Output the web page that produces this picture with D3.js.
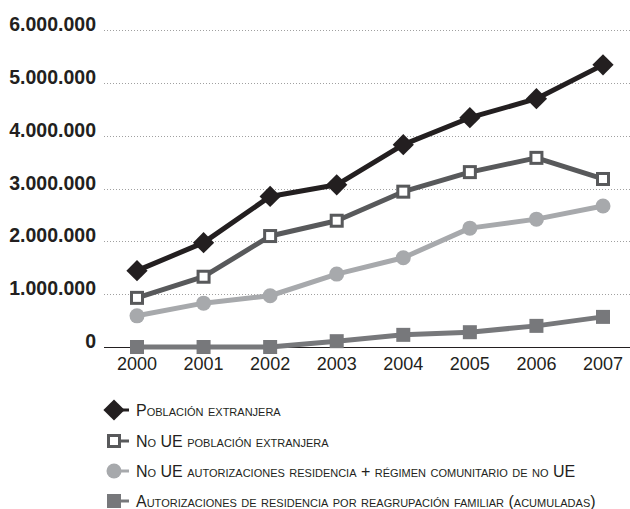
<!DOCTYPE html>
<html>
<head>
<meta charset="utf-8">
<script src="https://cdn.jsdelivr.net/npm/d3@7"></script>
<style>
  body { margin: 0; background: #fff; }
  svg { font-family: 'Liberation Sans', Arial, sans-serif; }
  .legend-text { font-variant: small-caps; font-size: 16px; fill: #231f20; }
</style>
</head>
<body>
<svg id="chart" width="630" height="509"></svg>
<script>
// Data
const years = ['2000', '2001', '2002', '2003', '2004', '2005', '2006', '2007'];
const poblacion = [1445000, 1975000, 2850000, 3070000, 3830000, 4340000, 4700000, 5340000];
const noUePoblacion = [930000, 1330000, 2100000, 2390000, 2940000, 3310000, 3580000, 3180000];
const noUeAutorizaciones = [590000, 830000, 970000, 1380000, 1690000, 2250000, 2420000, 2670000];
const reagrupacion = [0, 0, 0, 110000, 230000, 280000, 400000, 570000];
const yTicks = [0, 1000000, 2000000, 3000000, 4000000, 5000000, 6000000];
const legendLabels = [
  'Población extranjera',
  'No UE población extranjera',
  'No UE autorizaciones residencia + régimen comunitario de no UE',
  'Autorizaciones de residencia por reagrupación familiar (acumuladas)'
];

const series = [
  { values: reagrupacion, color: '#77787b', marker: 'square' },
  { values: noUeAutorizaciones, color: '#a7a9ac', marker: 'circle' },
  { values: noUePoblacion, color: '#58595b', marker: 'open' },
  { values: poblacion, color: '#231f20', marker: 'diamond' }
];

const svg = d3.select('#chart');

const xScale = d3.scalePoint().domain(years).range([137, 603]);
const yScale = d3.scaleLinear().domain([0, 6000000]).range([347, 30]);

// gridlines
svg.append('g')
  .selectAll('line')
  .data(yTicks.filter(d => d > 0))
  .join('line')
  .attr('x1', 104)
  .attr('x2', 630)
  .attr('y1', d => Math.round(yScale(d)) + 0.5)
  .attr('y2', d => Math.round(yScale(d)) + 0.5)
  .attr('stroke', '#a0a0a0')
  .attr('stroke-width', 1)
  .attr('stroke-dasharray', '1,2');

// zero axis
svg.append('line')
  .attr('x1', 104)
  .attr('x2', 630)
  .attr('y1', Math.round(yScale(0)) + 0.5)
  .attr('y2', Math.round(yScale(0)) + 0.5)
  .attr('stroke', '#231f20')
  .attr('stroke-width', 1);

// y labels
const fmt = d => d3.format(',')(d).replace(/,/g, '.');
svg.append('g')
  .selectAll('text')
  .data(yTicks)
  .join('text')
  .attr('x', 96)
  .attr('y', d => yScale(d) + 1)
  .attr('text-anchor', 'end')
  .attr('font-size', 19.5)
  .attr('font-weight', 'bold')
  .attr('fill', '#231f20')
  .text(fmt);

// x labels
svg.append('g')
  .selectAll('text')
  .data(years)
  .join('text')
  .attr('x', d => xScale(d))
  .attr('y', 370)
  .attr('text-anchor', 'middle')
  .attr('font-size', 18)
  .attr('fill', '#231f20')
  .text(d => d);

function drawMarker(g, type, color, x, y) {
  if (type === 'diamond') {
    g.append('rect')
      .attr('x', x - 7.5)
      .attr('y', y - 7.5)
      .attr('width', 15)
      .attr('height', 15)
      .attr('fill', color)
      .attr('transform', `rotate(45,${x},${y})`);
  } else if (type === 'open') {
    g.append('rect')
      .attr('x', x - 5.5)
      .attr('y', y - 5.5)
      .attr('width', 11)
      .attr('height', 11)
      .attr('fill', '#fff')
      .attr('stroke', color)
      .attr('stroke-width', 3);
  } else if (type === 'circle') {
    g.append('circle')
      .attr('cx', x)
      .attr('cy', y)
      .attr('r', 7.5)
      .attr('fill', color);
  } else {
    g.append('rect')
      .attr('x', x - 7)
      .attr('y', y - 7)
      .attr('width', 14)
      .attr('height', 14)
      .attr('fill', color);
  }
}

const line = d3.line()
  .x((d, i) => xScale(years[i]))
  .y(d => yScale(d));

series.forEach(s => {
  const g = svg.append('g');
  g.append('path')
    .datum(s.values)
    .attr('d', line)
    .attr('fill', 'none')
    .attr('stroke', s.color)
    .attr('stroke-width', 5)
    .attr('stroke-linejoin', 'round');
  s.values.forEach((v, i) => drawMarker(g, s.marker, s.color, xScale(years[i]), yScale(v)));
});

// legend
const legendOrder = [3, 2, 1, 0];
const legendY = [410, 441, 471, 501];
legendOrder.forEach((si, i) => {
  const s = series[si];
  const g = svg.append('g');
  const y = legendY[i];
  g.append('line')
    .attr('x1', 114)
    .attr('x2', 129)
    .attr('y1', y)
    .attr('y2', y)
    .attr('stroke', s.color)
    .attr('stroke-width', 3);
  drawMarker(g, s.marker, s.color, 114, y);
  g.append('text')
    .attr('class', 'legend-text')
    .attr('x', 136)
    .attr('y', y + 5.5)
    .text(legendLabels[i]);
});
</script>
</body>
</html>
